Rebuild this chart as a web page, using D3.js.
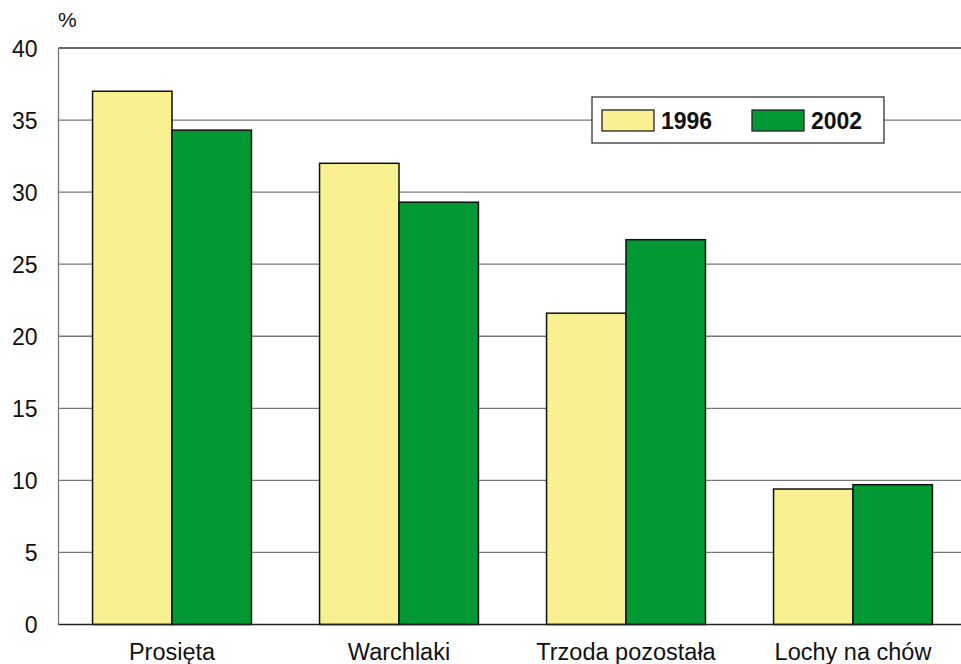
<!DOCTYPE html>
<html><head><meta charset="utf-8">
<script src="https://cdn.jsdelivr.net/npm/d3@7"></script>
<style>body{margin:0;background:#fff}svg{display:block}text{font-family:"Liberation Sans",Arial,sans-serif}</style>
</head><body>
<svg id="c" width="961" height="664"></svg>
<script>
const categories = ["Prosięta","Warchlaki","Trzoda pozostała","Lochy na chów"];
const series = ["1996","2002"];
const values1996 = [37.0, 32.0, 21.6, 9.4];
const values2002 = [34.3, 29.3, 26.7, 9.7];
const yTicks = [0,5,10,15,20,25,30,35,40];
const colors = ["#F8F091","#009933"];

(function(){
const svg = d3.select("#c");
const mLeft = 58.5, mRight = 966.5, mTop = 48, mBottom = 624.5;
const x = d3.scaleBand().domain(categories).range([mLeft,mRight]).paddingInner(0.3).paddingOuter(0.15);
const xs = d3.scaleBand().domain(series).range([0,x.bandwidth()]);
const y = d3.scaleLinear().domain([0,40]).range([mBottom,mTop]);

svg.append("g").selectAll("line").data(yTicks.filter(d=>d>0)).join("line")
  .attr("x1",mLeft).attr("x2",961).attr("y1",d=>y(d)).attr("y2",d=>y(d))
  .attr("stroke",d=>d===40?"#333":"#777").attr("stroke-width",1.3);

svg.append("line").attr("x1",mLeft).attr("x2",mLeft).attr("y1",mTop).attr("y2",mBottom).attr("stroke","#777").attr("stroke-width",1.3);

const yAxis = d3.axisLeft(y).tickValues(yTicks).tickSize(0).tickPadding(21);
const ga = svg.append("g").attr("transform",`translate(${mLeft},0)`).call(yAxis);
ga.select(".domain").remove();
ga.selectAll("text").attr("font-size",23).attr("fill","#111").attr("font-family","Liberation Sans, Arial, sans-serif").attr("dy","0.36em");

const data = categories.map((c,i)=>({c, v:[values1996[i], values2002[i]]}));
const g = svg.append("g").selectAll("g").data(data).join("g").attr("transform",d=>`translate(${x(d.c)},0)`);
g.selectAll("rect").data(d=>d.v.map((v,j)=>({s:series[j],v,j}))).join("rect")
  .attr("x",d=>xs(d.s)).attr("width",xs.bandwidth())
  .attr("y",d=>y(d.v)).attr("height",d=>y(0)-y(d.v))
  .attr("fill",d=>colors[d.j]).attr("stroke","#111").attr("stroke-width",1.5);

svg.append("line").attr("x1",mLeft).attr("x2",961).attr("y1",mBottom).attr("y2",mBottom).attr("stroke","#222").attr("stroke-width",1.5);

const xAxis = d3.axisBottom(x).tickSize(0).tickPadding(0);
const gx = svg.append("g").attr("transform",`translate(0,${mBottom})`).call(xAxis);
gx.select(".domain").remove();
gx.selectAll("text").attr("font-size",23.5).attr("fill","#111").attr("font-family","Liberation Sans, Arial, sans-serif").attr("y",35.5).attr("dy",0);

svg.append("text").attr("x",58).attr("y",27).attr("font-size",21).attr("fill","#111").text("%");

const lg = svg.append("g");
lg.append("rect").attr("x",592).attr("y",97).attr("width",292).attr("height",46).attr("fill","#fff").attr("stroke","#333").attr("stroke-width",1.3);
const lx = [602, 752];
series.forEach((s,i)=>{
  lg.append("rect").attr("x",lx[i]).attr("y",110).attr("width",52).attr("height",21).attr("fill",colors[i]).attr("stroke","#222").attr("stroke-width",1.3);
  lg.append("text").attr("x",lx[i]+59).attr("y",129).attr("font-size",23).attr("font-weight","bold").attr("fill","#111").text(s);
});
})();
</script>
</body></html>
